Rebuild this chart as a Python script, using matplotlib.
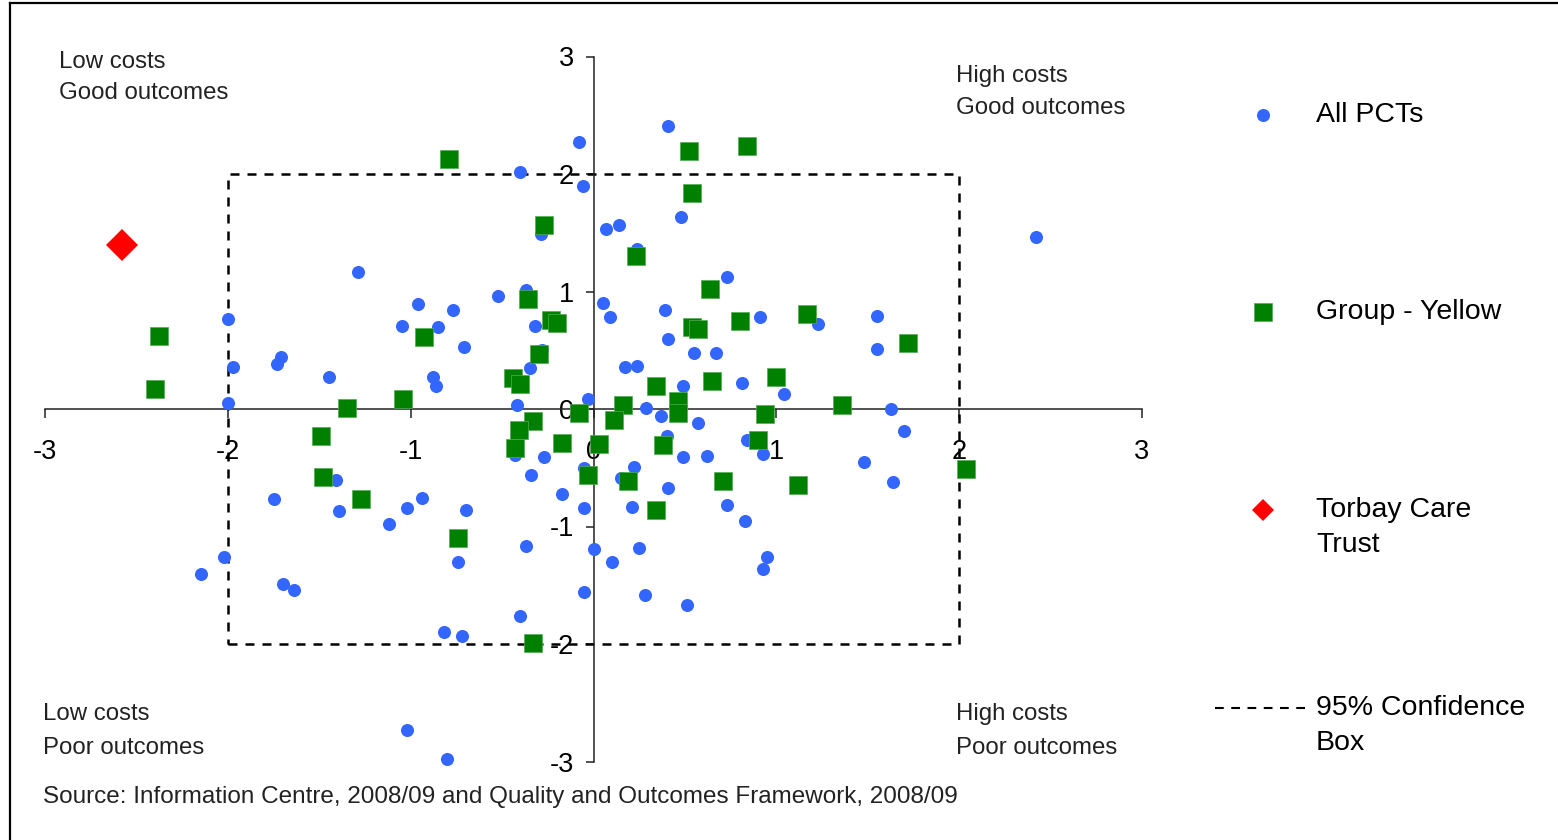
import matplotlib
matplotlib.use("Agg")
import matplotlib.pyplot as plt
from matplotlib.lines import Line2D

plt.rcParams['font.family'] = ['Liberation Sans', 'DejaVu Sans']

# ---------------- data ----------------
all_x = [-2.00, -1.97, -1.73, -1.71, -0.08, -0.40, -0.06, -0.29, -1.29, -0.52,
         -0.37, -0.96, -0.77, -1.05, -0.85, -0.32, -0.71, -0.28, -0.35, -1.45,
         -0.88, -0.86, -0.42, -0.03, 0.05, 0.41, 0.48, 0.07, 0.14, 0.24,
         0.73, 0.09, 0.39, 0.91, 1.23, 1.55, 1.55, 0.41, 0.55, 0.67,
         0.17, 0.24, 0.49, 0.81, 1.04, 0.29, 0.37, 0.57, 0.40, 0.84,
         0.93, 0.49, 0.62, 1.48, 0.22, 0.15, 0.41, -0.05, 0.21, 0.73,
         0.83, 0.00, 0.25, 0.10, 0.95, 0.93, -0.05, 0.28, 0.51, 2.42,
         1.63, 1.70, 1.64, -2.00, -1.41, -1.75, -1.39, -2.02, -2.15, -1.70,
         -1.64, -1.12, -1.02, -0.94, -0.70, -0.74, -0.82, -0.72, -1.02, -0.80,
         -0.40, -0.37, -0.17, -0.34, -0.27, -0.05, -0.43]
all_y = [0.77, 0.36, 0.38, 0.44, 2.27, 2.02, 1.90, 1.49, 1.17, 0.96,
         1.01, 0.89, 0.84, 0.71, 0.70, 0.71, 0.53, 0.50, 0.35, 0.27,
         0.27, 0.20, 0.03, 0.085, 0.90, 2.41, 1.63, 1.53, 1.57, 1.36,
         1.12, 0.78, 0.84, 0.78, 0.72, 0.79, 0.51, 0.60, 0.48, 0.48,
         0.36, 0.37, 0.20, 0.22, 0.13, 0.01, -0.06, -0.12, -0.23, -0.26,
         -0.38, -0.41, -0.40, -0.45, -0.49, -0.59, -0.67, -0.84, -0.83, -0.82,
         -0.95, -1.19, -1.18, -1.30, -1.26, -1.36, -1.56, -1.58, -1.67, 1.46,
         0.00, -0.19, -0.62, 0.05, -0.60, -0.77, -0.87, -1.26, -1.40, -1.49,
         -1.54, -0.98, -0.84, -0.76, -0.86, -1.30, -1.90, -1.93, -2.73, -2.98,
         -1.76, -1.17, -0.72, -0.56, -0.41, -0.50, -0.39]

group_x = [-2.38, -2.40, -0.79, -0.27, -0.36, -0.23, -0.20, -0.93, -0.30, -0.44,
           -0.40, -1.35, -1.04, -0.08, -0.33, 0.52, 0.84, 0.54, 0.23, 0.64,
           0.54, 0.57, 0.80, 1.17, 0.34, 0.65, 1.00, 0.16, 0.46, 0.46,
           1.36, 0.11, 0.94, 0.03, 0.38, 0.90, -0.03, 0.19, 0.71, 1.12,
           0.34, 1.72, 2.04, -1.49, -1.48, -1.27, -0.74, -0.33, -0.17, -0.43,
           -0.41]
group_y = [0.62, 0.17, 2.13, 1.57, 0.94, 0.76, 0.73, 0.61, 0.47, 0.26,
           0.21, 0.01, 0.085, -0.03, -0.10, 2.20, 2.24, 1.84, 1.30, 1.02,
           0.70, 0.68, 0.75, 0.81, 0.20, 0.24, 0.27, 0.03, 0.07, -0.03,
           0.03, -0.09, -0.04, -0.30, -0.31, -0.26, -0.56, -0.61, -0.61, -0.65,
           -0.86, 0.56, -0.51, -0.23, -0.58, -0.77, -1.10, -1.99, -0.29, -0.33,
           -0.18]

torbay_x = [-2.58]
torbay_y = [1.40]

box_x = [-2, 2, 2, -2, -2]
box_y = [-2, -2, 2, 2, -2]

ticks = [-3, -2, -1, 0, 1, 2, 3]
tick_labels = ['-3', '-2', '-1', '0', '1', '2', '3']

quadrant_labels = [("Low costs", "Good outcomes"), ("High costs", "Good outcomes"),
                   ("Low costs", "Poor outcomes"), ("High costs", "Poor outcomes")]
legend_labels = ["All PCTs", "Group - Yellow", "Torbay Care\nTrust", "95% Confidence\nBox"]
source_text = "Source: Information Centre, 2008/09 and Quality and Outcomes Framework, 2008/09"

BLUE = '#3366FF'
GREEN = '#008000'
RED = '#FF0000'

W, H = 1558, 840
fig = plt.figure(figsize=(W / 100, H / 100), dpi=100)


def fx(px):
    return px / W


def fy(py):
    return 1 - py / H


ax = fig.add_axes([45.25 / W, 1 - 761.5 / H, 1096.5 / W, 705 / H])
ax.set_xlim(-3, 3)
ax.set_ylim(-3, 3)

ax.plot(all_x, all_y, linestyle='none', marker='o', markersize=9.4,
        color=BLUE, markeredgewidth=0, zorder=3, clip_on=False)
ax.plot(group_x, group_y, linestyle='none', marker='s', markersize=13,
        markerfacecolor=GREEN, markeredgecolor='#55aa55', markeredgewidth=0.5,
        zorder=4, clip_on=False)
ax.plot(torbay_x, torbay_y, linestyle='none', marker='D', markersize=16.3,
        color=RED, markeredgewidth=0, zorder=5, clip_on=False)
ax.plot(box_x, box_y, color='black', linewidth=1.8, dashes=[3.6, 3.2], zorder=2)

for side in ['top', 'right']:
    ax.spines[side].set_visible(False)
ax.spines['left'].set_position(('data', 0))
ax.spines['bottom'].set_position(('data', 0))
for side in ['left', 'bottom']:
    ax.spines[side].set_linewidth(1.1)
    ax.spines[side].set_color('#222222')

ax.set_xticks(ticks, tick_labels)
ax.set_yticks(ticks, tick_labels)
ax.tick_params(axis='x', direction='out', length=6.5, width=1.1, pad=15,
               labelsize=19.5, colors='#222222', labelcolor='black')
ax.tick_params(axis='y', direction='out', length=6, width=1.1, pad=8,
               labelsize=19.5, colors='#222222', labelcolor='black')
ax.patch.set_alpha(0)

# quadrant labels
qpos = [(59, 62, 93), (956, 76, 108), (43, 714, 748), (956, 714, 748)]
for (l1, l2), (px, py1, py2) in zip(quadrant_labels, qpos):
    fig.text(fx(px), fy(py1), l1, fontsize=17.3, color='#222222', ha='left', va='center')
    fig.text(fx(px), fy(py2), l2, fontsize=17.3, color='#222222', ha='left', va='center')

fig.text(fx(43), fy(797), source_text, fontsize=17.5, color='#222222', ha='left', va='center')

# legend (manual)
mx, tx = 1263, 1316
fig.add_artist(Line2D([fx(mx)], [fy(115)], marker='o', markersize=9.4,
                      color=BLUE, markeredgewidth=0, linestyle='none'))
fig.add_artist(Line2D([fx(mx)], [fy(312)], marker='s', markersize=13.5,
                      markerfacecolor=GREEN, markeredgecolor='#55aa55',
                      markeredgewidth=0.5, linestyle='none'))
fig.add_artist(Line2D([fx(mx)], [fy(510)], marker='D', markersize=11,
                      color=RED, markeredgewidth=0, linestyle='none'))
fig.add_artist(Line2D([fx(1215), fx(1310)], [fy(708), fy(708)], color='black',
                      linewidth=1.5, dashes=[4.2, 3.6]))

leg_y = [115, 312, 510, 708]
for lab, py in zip(legend_labels, leg_y):
    lines = lab.split('\n')
    for i, ln in enumerate(lines):
        fig.text(fx(tx), fy(py + i * 35), ln, fontsize=20.5, color='black',
                 ha='left', va='center')

# outer frame (left and top edges)
fig.add_artist(Line2D([fx(10), fx(10)], [fy(3), 0], color='black', linewidth=1.6))
fig.add_artist(Line2D([fx(10), 1], [fy(3), fy(3)], color='black', linewidth=1.6))

fig.savefig('out.png', dpi=100)
